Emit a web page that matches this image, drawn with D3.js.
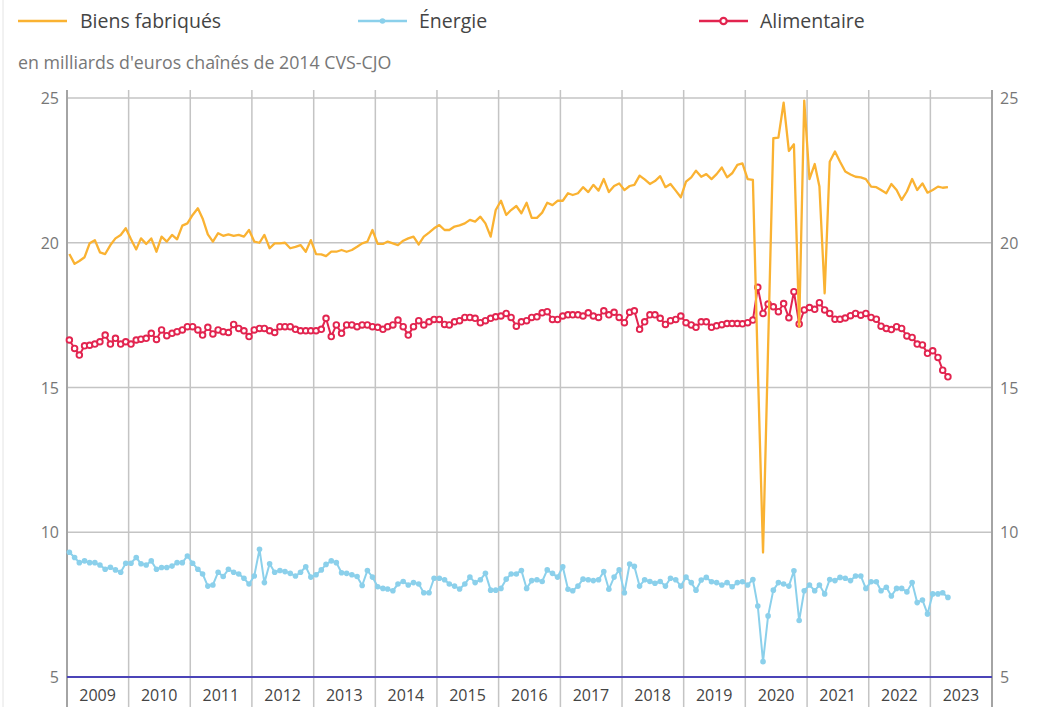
<!DOCTYPE html>
<html>
<head>
<meta charset="utf-8">
<script src="https://cdn.jsdelivr.net/npm/d3@7"></script>
<style>
  body { margin: 0; background: #fff; }
  svg { display: block; font-family: "Open Sans", sans-serif; }
</style>
</head>
<body>
<svg id="chart" width="1044" height="707"></svg>
<script>
// monthly values, Jan 2009 -> Apr 2023
const biens = [
  19.61, 19.27, 19.37, 19.50, 19.98, 20.09, 19.67, 19.61, 19.92, 20.15, 20.27, 20.50,
  20.12, 19.77, 20.15, 19.96, 20.15, 19.69, 20.21, 20.04, 20.27, 20.12, 20.59, 20.67,
  20.96, 21.19, 20.84, 20.29, 20.04, 20.33, 20.24, 20.29, 20.24, 20.27, 20.21, 20.44,
  20.04, 20.00, 20.27, 19.81, 19.98, 19.98, 20.00, 19.81, 19.86, 19.92, 19.69, 20.09,
  19.61, 19.60, 19.54, 19.69, 19.69, 19.75, 19.69, 19.75, 19.86, 19.98, 20.04, 20.44,
  19.96, 19.96, 20.04, 19.98, 19.92, 20.07, 20.15, 20.21, 19.94, 20.21, 20.35, 20.50,
  20.61, 20.44, 20.44, 20.56, 20.60, 20.67, 20.79, 20.73, 20.90, 20.67, 20.21, 21.13,
  21.45, 20.96, 21.13, 21.27, 21.02, 21.38, 20.86, 20.86, 21.04, 21.38, 21.30, 21.45,
  21.45, 21.71, 21.65, 21.71, 21.92, 21.75, 22.00, 21.80, 22.20, 21.75, 21.96, 22.05,
  21.82, 21.96, 22.00, 22.32, 22.19, 22.03, 22.13, 22.30, 21.92, 22.03, 21.80, 21.57,
  22.11, 22.26, 22.49, 22.28, 22.37, 22.20, 22.37, 22.60, 22.26, 22.40, 22.69, 22.74,
  22.20, 22.17, 15.70, 9.30, 16.40, 23.61, 23.63, 24.84, 23.17, 23.40, 17.10, 24.91,
  22.20, 22.72, 21.94, 18.25, 22.80, 23.15, 22.80, 22.46, 22.36, 22.28, 22.26, 22.20,
  21.94, 21.92, 21.82, 21.71, 22.03, 21.82, 21.48, 21.77, 22.20, 21.82, 22.05, 21.73,
  21.82, 21.94, 21.90, 21.92
]

const energie = [
  9.31, 9.13, 8.95, 9.01, 8.95, 8.95, 8.87, 8.72, 8.79, 8.70, 8.62, 8.93,
  8.93, 9.13, 8.91, 8.87, 9.01, 8.72, 8.78, 8.78, 8.83, 8.95, 8.95, 9.18,
  8.93, 8.72, 8.56, 8.14, 8.18, 8.62, 8.47, 8.72, 8.62, 8.56, 8.41, 8.21,
  8.49, 9.41, 8.26, 8.91, 8.62, 8.68, 8.64, 8.58, 8.49, 8.62, 8.81, 8.45,
  8.53, 8.70, 8.89, 9.01, 8.95, 8.60, 8.58, 8.53, 8.47, 8.16, 8.68, 8.45,
  8.12, 8.06, 8.04, 7.98, 8.21, 8.30, 8.18, 8.26, 8.21, 7.91, 7.91, 8.41,
  8.41, 8.36, 8.21, 8.14, 8.04, 8.21, 8.45, 8.26, 8.36, 8.58, 8.00, 8.00,
  8.06, 8.38, 8.56, 8.56, 8.68, 8.06, 8.33, 8.36, 8.30, 8.70, 8.58, 8.45,
  8.81, 8.03, 7.98, 8.14, 8.38, 8.36, 8.33, 8.36, 8.64, 8.03, 8.45, 8.70,
  7.91, 8.90, 8.82, 8.14, 8.36, 8.30, 8.24, 8.30, 8.14, 8.41, 8.36, 8.14,
  8.45, 8.26, 8.00, 8.35, 8.44, 8.29, 8.26, 8.18, 8.26, 8.12, 8.26, 8.29,
  8.18, 8.37, 7.45, 5.53, 7.11, 8.00, 8.26, 8.21, 8.14, 8.67, 6.95, 7.98,
  8.18, 7.98, 8.18, 7.87, 8.37, 8.33, 8.44, 8.41, 8.33, 8.49, 8.49, 8.06,
  8.29, 8.29, 7.98, 8.10, 7.80, 8.06, 8.06, 7.94, 8.26, 7.57, 7.66, 7.18,
  7.87, 7.87, 7.91, 7.75
]

const alimentaire = [
  16.64, 16.35, 16.12, 16.44, 16.46, 16.50, 16.58, 16.81, 16.50, 16.70, 16.50, 16.58,
  16.50, 16.64, 16.67, 16.70, 16.87, 16.66, 16.99, 16.79, 16.87, 16.93, 16.99, 17.10,
  17.10, 16.99, 16.81, 17.08, 16.85, 16.99, 16.93, 16.90, 17.18, 17.04, 16.96, 16.76,
  16.99, 17.04, 17.04, 16.96, 16.90, 17.10, 17.10, 17.10, 17.01, 16.96, 16.96, 16.96,
  16.96, 17.01, 17.39, 16.76, 17.16, 16.87, 17.16, 17.16, 17.10, 17.16, 17.16, 17.10,
  17.08, 17.01, 17.10, 17.16, 17.33, 17.10, 16.81, 17.10, 17.31, 17.16, 17.27, 17.35,
  17.35, 17.18, 17.16, 17.27, 17.31, 17.42, 17.42, 17.39, 17.24, 17.31, 17.39, 17.44,
  17.47, 17.56, 17.42, 17.12, 17.27, 17.31, 17.42, 17.44, 17.58, 17.62, 17.35, 17.35,
  17.47, 17.51, 17.51, 17.51, 17.47, 17.58, 17.47, 17.42, 17.65, 17.51, 17.60, 17.42,
  17.24, 17.60, 17.65, 17.01, 17.27, 17.51, 17.51, 17.39, 17.18, 17.31, 17.35, 17.47,
  17.24, 17.16, 17.08, 17.27, 17.27, 17.08, 17.13, 17.17, 17.21, 17.21, 17.21, 17.20,
  17.24, 17.33, 18.46, 17.56, 17.88, 17.79, 17.62, 17.90, 17.41, 18.31, 17.19, 17.68,
  17.76, 17.70, 17.93, 17.68, 17.56, 17.36, 17.36, 17.40, 17.48, 17.56, 17.50, 17.56,
  17.42, 17.36, 17.12, 17.04, 17.00, 17.10, 17.04, 16.78, 16.73, 16.50, 16.47, 16.18,
  16.27, 16.04, 15.60, 15.37
]

const years = d3.range(2009, 2024)
const yTicks = [5, 10, 15, 20, 25]
const months = d3.timeMonth.range(new Date(2009, 0, 1), new Date(2023, 4, 1))

const colOrange = '#fab232'
const colBlue = '#8bd0eb'
const colRed = '#e2244f'

let svg = d3.select('#chart')

let margin = { top: 98, left: 67, right: 52, bottom: 30 }
let width = 1044, height = 707

let x = d3.scaleTime()
  .domain([new Date(2009, 0, 1), new Date(2024, 0, 1)])
  .range([margin.left, width - margin.right])

let y = d3.scaleLinear().domain([5, 25]).range([677, margin.top])

// mid-month position of a point
let mx = (d) => x(new Date(d.getFullYear(), d.getMonth(), 15.5))

// thin frame on the far left
svg.append('line')
  .attr('x1', 3).attr('x2', 3).attr('y1', 0).attr('y2', height)
  .style('stroke', '#e4e4e4').style('stroke-width', 1)

// horizontal grid
svg.append('g').selectAll('line').data(yTicks.filter(d => d > 5)).join('line')
  .attr('x1', margin.left).attr('x2', width - margin.right)
  .attr('y1', d => y(d)).attr('y2', d => y(d))
  .style('stroke', '#c4c4c4').style('stroke-width', 1.5)

// vertical grid at year starts
svg.append('g').selectAll('line').data(years.slice(1)).join('line')
  .attr('x1', d => x(new Date(d, 0, 1))).attr('x2', d => x(new Date(d, 0, 1)))
  .attr('y1', 90).attr('y2', height)
  .style('stroke', '#c4c4c4').style('stroke-width', 1.5)

// side axes
svg.append('g').selectAll('line').data([margin.left, width - margin.right]).join('line')
  .attr('x1', d => d).attr('x2', d => d)
  .attr('y1', 90).attr('y2', height)
  .style('stroke', '#a4a4a4').style('stroke-width', 2)

// base line
svg.append('line')
  .attr('x1', margin.left).attr('x2', width - margin.right)
  .attr('y1', y(5)).attr('y2', y(5))
  .style('stroke', '#4b44b8').style('stroke-width', 2)

// y labels both sides
svg.append('g').selectAll('text').data(yTicks).join('text')
  .attr('x', margin.left - 8).attr('y', d => y(d) + 6)
  .attr('text-anchor', 'end')
  .style('font-size', '16px').style('fill', '#777')
  .text(d => d)

svg.append('g').selectAll('text').data(yTicks).join('text')
  .attr('x', width - margin.right + 8).attr('y', d => y(d) + 6)
  .style('font-size', '16px').style('fill', '#777')
  .text(d => d)

// year labels
svg.append('g').selectAll('text').data(years).join('text')
  .attr('x', d => x(new Date(d, 6, 1)))
  .attr('y', 701)
  .attr('text-anchor', 'middle')
  .style('font-size', '16px').style('fill', '#444')
  .text(d => d)

// subtitle
svg.append('text')
  .attr('x', 18).attr('y', 69)
  .style('font-size', '17.8px').style('fill', '#777')
  .text("en milliards d'euros chaînés de 2014 CVS-CJO")

let line = d3.line().x((d, i) => mx(months[i])).y(d => y(d))

svg.append('path').datum(energie)
  .attr('d', line)
  .style('fill', 'none').style('stroke', colBlue).style('stroke-width', 2)

svg.append('g').selectAll('circle').data(energie).join('circle')
  .attr('cx', (d, i) => mx(months[i])).attr('cy', d => y(d))
  .attr('r', 2.8)
  .style('fill', colBlue)

svg.append('path').datum(alimentaire)
  .attr('d', line)
  .style('fill', 'none').style('stroke', colRed).style('stroke-width', 2)

svg.append('g').selectAll('circle').data(alimentaire).join('circle')
  .attr('cx', (d, i) => mx(months[i])).attr('cy', d => y(d))
  .attr('r', 2.8)
  .style('fill', '#fff').style('stroke', colRed).style('stroke-width', 1.9)

svg.append('path').datum(biens)
  .attr('d', line)
  .style('fill', 'none').style('stroke', colOrange).style('stroke-width', 2.3)
  .style('stroke-linejoin', 'round')

// legend
let legend = [
  { name: 'Biens fabriqués', color: colOrange, x: 18, mark: 'none' },
  { name: 'Énergie', color: colBlue, x: 358, mark: 'dot' },
  { name: 'Alimentaire', color: colRed, x: 699, mark: 'ring' }
]

let lg = svg.append('g').selectAll('g').data(legend).join('g')
  .attr('transform', d => `translate(${d.x},21)`)

lg.append('line')
  .attr('x1', 0).attr('x2', 49).attr('y1', 0).attr('y2', 0)
  .style('stroke', d => d.color).style('stroke-width', 2.5)

lg.filter(d => d.mark != 'none').append('circle')
  .attr('cx', 24.5).attr('cy', 0)
  .attr('r', d => d.mark == 'dot' ? 2.8 : 3.2)
  .style('fill', d => d.mark == 'dot' ? d.color : '#fff')
  .style('stroke', d => d.color)
  .style('stroke-width', d => d.mark == 'dot' ? 0 : 2.2)

lg.append('text')
  .attr('x', d => d.name == 'Biens fabriqués' ? 62 : 61)
  .attr('y', 7)
  .style('font-size', '19.5px').style('fill', '#444')
  .text(d => d.name)
</script>
</body>
</html>
